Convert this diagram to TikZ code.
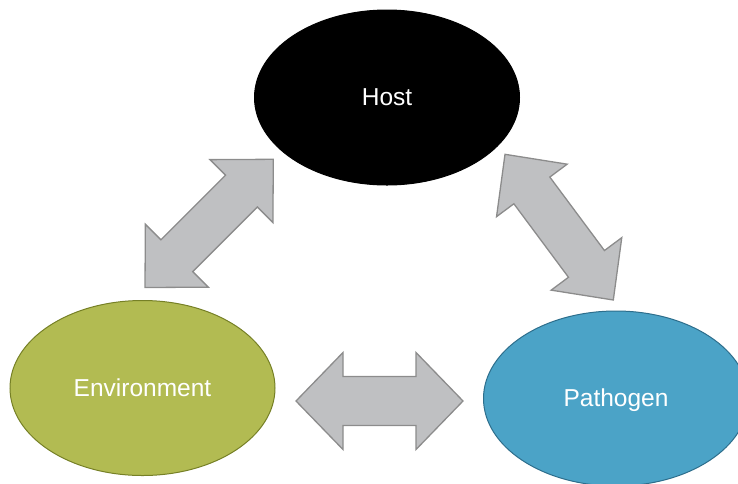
\documentclass[tikz,border=0pt]{standalone}
\usepackage{fontspec}
\setmainfont{Liberation Sans}
\usetikzlibrary{shapes.geometric,calc}
\definecolor{arrowfill}{RGB}{191,192,194}
\definecolor{arrowline}{RGB}{140,140,140}
\definecolor{envfill}{RGB}{178,187,82}
\definecolor{envline}{RGB}{118,128,38}
\definecolor{pathfill}{RGB}{75,163,199}
\definecolor{pathline}{RGB}{45,110,140}
\tikzset{
  blob/.style={ellipse, minimum width=265pt, minimum height=175pt, inner sep=0pt,
    line width=1pt, text=white, font=\fontsize{24.5}{29}\selectfont,
    text height=16pt, text depth=0pt},
  dblarrow/.style={fill=arrowfill, draw=arrowline, line width=1.3pt, line join=miter}
}
% #1,#2 tip names; #3 half head width; #4 head length; #5 half shaft width
\newcommand\twoheaded[5]{%
  \coordinate (#1-b) at ($(#1)!#4!(#2)$);
  \coordinate (#2-b) at ($(#2)!#4!(#1)$);
  \path[dblarrow] (#1) -- ($(#1-b)!#3!90:(#2)$) -- ($(#1-b)!#5!90:(#2)$)
    -- ($(#2-b)!#5!-90:(#1)$) -- ($(#2-b)!#3!-90:(#1)$) -- (#2)
    -- ($(#2-b)!#3!90:(#1)$) -- ($(#2-b)!#5!90:(#1)$)
    -- ($(#1-b)!#5!-90:(#2)$) -- ($(#1-b)!#3!-90:(#2)$) -- cycle;
}
\begin{document}
\begin{tikzpicture}[x=1pt,y=-1pt]
  \useasboundingbox (0,0) rectangle (738,483);
  \clip (0,0) rectangle (738,483);
  \node[blob, fill=black, draw=black] (host) at (387,97.5) {Host};
  \node[blob, fill=envfill, draw=envline] (env) at (142.5,388) {Environment};
  \node[blob, fill=pathfill, draw=pathline] (path) at (616,398.5) {Pathogen};
  % arrow tips
  \coordinate (hl) at (296,401);
  \coordinate (hr) at (463,401);
  \coordinate (ll) at (145,287.5);
  \coordinate (lu) at (273.3,159.3);
  \coordinate (ru) at (505,154.3);
  \coordinate (rl) at (613.3,300);
  \twoheaded{hl}{hr}{48.5pt}{47pt}{24.5pt}
  \twoheaded{ll}{lu}{44.5pt}{45pt}{22.5pt}
  \twoheaded{ru}{rl}{44pt}{45pt}{22.4pt}
\end{tikzpicture}
\end{document}
